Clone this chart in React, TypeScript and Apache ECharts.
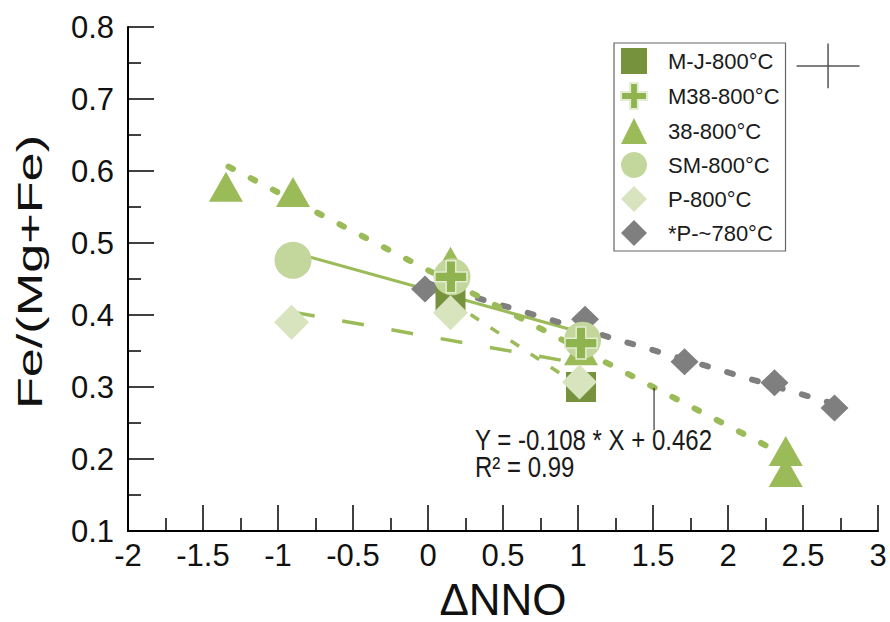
import React, { useEffect, useRef } from "react";
import * as echarts from "echarts";

// ---- data ----
const mjX = [0.15, 1.02];
const mjY = [0.425, 0.3];
const m38X = [0.153, 1.02];
const m38Y = [0.453, 0.361];
const t38X = [-1.347, -0.9, 0.15, 1.02, 2.385, 2.385];
const t38Y = [0.578, 0.571, 0.474, 0.351, 0.211, 0.182];
const smX = [-0.9, 0.16, 1.03];
const smY = [0.476, 0.453, 0.365];
const pX = [-0.91, 0.15, 1.01];
const pY = [0.39, 0.403, 0.307];
const p780X = [-0.02, 1.047, 1.71, 2.31, 2.71];
const p780Y = [0.436, 0.394, 0.335, 0.306, 0.271];

// fitted / trend lines (end points)
const fit38X = [-1.33, 2.38];
const fit38Y = [0.606, 0.205];
const fitSMX = [-0.9, 1.0];
const fitSMY = [0.487, 0.377];
const fitPX = [-0.9, 1.0];
const fitPY = [0.404, 0.333];
const fitMJX = [0.15, 1.02];
const fitMJY = [0.419, 0.3];
const fitGrayX = [0.0, 2.7];
const fitGrayY = [0.444, 0.277];

// annotation leader + error cross
const leaderX = [1.507, 1.507];
const leaderY = [0.299, 0.24];
const crossHX = [2.457, 2.877];
const crossHY = [0.746, 0.746];
const crossVX = [2.667, 2.667];
const crossVY = [0.715, 0.777];

const seriesNames = ["M-J-800°C", "M38-800°C", "38-800°C", "SM-800°C", "P-800°C", "*P-~780°C"];
const equationText = "Y = -0.108 * X + 0.462";
const r2Text = "R² = 0.99";

const FONT = "Liberation Sans, Arial, sans-serif";
const PLUS = "path://M35,0 H65 V35 H100 V65 H65 V100 H35 V65 H0 V35 H35 Z";

const zip = (xs: number[], ys: number[]) => xs.map((x, i) => [x, ys[i]]);

function lineSeries(xs: number[], ys: number[], color: string, width: number, type: any, cap = "butt") {
  return {
    type: "line",
    data: zip(xs, ys),
    symbol: "none",
    silent: true,
    z: 1,
    lineStyle: { color, width, type, cap },
  };
}

export default function App() {
  const ref = useRef<HTMLDivElement>(null);
  useEffect(() => {
    if (!ref.current) return;
    const chart = echarts.init(ref.current, null, { renderer: "svg" });
    chart.setOption({
      animation: false,
      backgroundColor: "#ffffff",
      textStyle: { fontFamily: FONT },
      grid: { left: 128, right: 12, top: 27, bottom: 91, containLabel: false, outerBoundsMode: "none" },
      xAxis: {
        type: "value",
        min: -2,
        max: 3,
        interval: 0.5,
        name: "ΔNNO",
        nameLocation: "middle",
        nameGap: 46,
        nameTextStyle: { fontSize: 44, lineHeight: 44, color: "#111", fontFamily: FONT },
        axisLine: { show: true, onZero: false, lineStyle: { color: "#000", width: 2 } },
        axisTick: { show: true, inside: true, length: 26, lineStyle: { color: "#000", width: 1.5 } },
        minorTick: { show: true, splitNumber: 2, length: 13, lineStyle: { color: "#000", width: 1.5 } },
        axisLabel: { fontSize: 31, color: "#111", margin: 9, fontFamily: FONT },
        splitLine: { show: false },
        minorSplitLine: { show: false },
      },
      yAxis: {
        type: "value",
        min: 0.1,
        max: 0.8,
        interval: 0.1,
        axisLine: { show: true, onZero: false, lineStyle: { color: "#000", width: 2 } },
        axisTick: { show: true, inside: true, length: 26, lineStyle: { color: "#000", width: 1.5 } },
        minorTick: { show: true, splitNumber: 2, length: 13, lineStyle: { color: "#000", width: 1.5 } },
        axisLabel: { fontSize: 31, color: "#111", margin: 14, fontFamily: FONT },
        splitLine: { show: false },
        minorSplitLine: { show: false },
      },
      legend: {
        data: seriesNames,
        orient: "vertical",
        left: 614,
        top: 43,
        padding: [5, 6, 5, 6],
        itemWidth: 26,
        itemHeight: 26,
        itemGap: 8,
        borderColor: "#666",
        borderWidth: 1.2,
        backgroundColor: "#fff",
        selectedMode: false,
        textStyle: { fontSize: 22, color: "#1a1a1a", fontFamily: FONT, padding: [0, 0, 0, 16] },
      },
      graphic: [
        {
          type: "text",
          x: 30,
          y: 272,
          rotation: Math.PI / 2,
          scaleX: 1.45,
          style: {
            text: "Fe/(Mg+Fe)",
            fontSize: 36,
            fontFamily: FONT,
            fill: "#111",
            align: "center",
            verticalAlign: "middle",
          },
        },
        {
          type: "text",
          x: 475,
          y: 440,
          scaleY: 1.2,
          style: { text: equationText, fontSize: 24, fontFamily: FONT, fill: "#1a1a1a", align: "left", verticalAlign: "middle" },
        },
        {
          type: "text",
          x: 475,
          y: 467,
          scaleY: 1.2,
          style: { text: r2Text, fontSize: 24, fontFamily: FONT, fill: "#1a1a1a", align: "left", verticalAlign: "middle" },
        },
      ],
      series: [
        lineSeries(fitPX, fitPY, "#9bbb59", 3.5, [22, 28]),
        lineSeries(fitMJX, fitMJY, "#9bbb59", 3.5, [10, 14]),
        lineSeries(fitSMX, fitSMY, "#9bbb59", 3, "solid"),
        lineSeries(fitGrayX, fitGrayY, "#7f7f7f", 6, [6, 20], "round"),
        lineSeries(fit38X, fit38Y, "#9bbb59", 6, [5, 20], "round"),
        lineSeries(leaderX, leaderY, "#111", 1, "solid"),
        lineSeries(crossHX, crossHY, "#555", 1.5, "solid"),
        lineSeries(crossVX, crossVY, "#555", 1.5, "solid"),
        {
          name: "*P-~780°C",
          type: "scatter",
          data: zip(p780X, p780Y),
          symbol: "diamond",
          symbolSize: [28, 27],
          itemStyle: { color: "#7f7f7f", opacity: 1 },
          z: 2,
        },
        {
          name: "M-J-800°C",
          type: "scatter",
          data: zip(mjX, mjY),
          symbol: "rect",
          symbolSize: 30,
          itemStyle: { color: "#76923c", opacity: 1 },
          z: 2,
        },
        {
          name: "38-800°C",
          type: "scatter",
          data: zip(t38X, t38Y),
          symbol: "triangle",
          symbolSize: [34, 30],
          itemStyle: { color: "#9bbb59", opacity: 1 },
          z: 2,
        },
        {
          name: "SM-800°C",
          type: "scatter",
          data: zip(smX, smY),
          symbol: "circle",
          symbolSize: 37,
          itemStyle: { color: "#c3d69b", opacity: 1 },
          z: 2,
        },
        {
          name: "M38-800°C",
          type: "scatter",
          data: zip(m38X, m38Y),
          symbol: PLUS,
          symbolSize: 32,
          itemStyle: { color: "#8fb34f", borderColor: "#e4edd2", borderWidth: 1.5, opacity: 1 },
          z: 2,
        },
        {
          name: "P-800°C",
          type: "scatter",
          data: zip(pX, pY),
          symbol: "diamond",
          symbolSize: 35,
          itemStyle: { color: "#d7e4bd", opacity: 1 },
          z: 2,
        },
      ],
    });
    return () => chart.dispose();
  }, []);
  return <div ref={ref} style={{ position: "fixed", left: 0, top: 0, width: 890, height: 622 }} />;
}
